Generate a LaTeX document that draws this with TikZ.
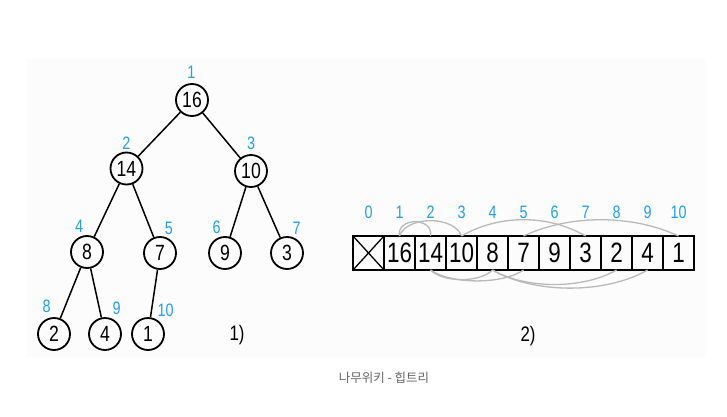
\documentclass[tikz,border=0pt]{standalone}
\usepackage{fontspec}
\setmainfont{Liberation Sans}
\newfontfamily\handfont[FakeStretch=0.8]{Liberation Sans}
\newfontfamily\krfont{Noto Sans CJK KR}
\usetikzlibrary{positioning}
\definecolor{idxblue}{RGB}{30,160,240}
\definecolor{panel}{RGB}{252,252,252}

\tikzset{
  heapnode/.style={draw, circle, line width=1.8pt, minimum size=32pt, inner sep=0pt,
    font=\handfont\fontsize{22}{22}\selectfont},
  idx/.style={text=idxblue, inner sep=1pt, font=\handfont\fontsize{18}{18}\selectfont},
  cell/.style={draw, line width=1.6pt, minimum width=31pt, minimum height=34pt,
    inner sep=0pt, outer sep=0pt, font=\handfont\fontsize{28}{30}\selectfont},
  edge/.style={line width=1.5pt},
  link/.style={draw=gray!55, line width=1.3pt},
}

\begin{document}
\begin{tikzpicture}[x=1pt,y=1pt]
\useasboundingbox (0,0) rectangle (727,416);
\fill[panel] (27,58) rectangle (706,358);

% tree
\node[heapnode, label={[idx,label distance=3pt]92:1}] (n16) at (192,316) {16};
\node[heapnode, label={[idx,label distance=1pt]90:2}] (n14) at (126.5,247.5) {14};
\node[heapnode, label={[idx,label distance=3pt]90:3}] (n10) at (251,245) {10};
\node[heapnode, label={[idx,label distance=2pt]98:4}] (n8) at (87,164) {8};
\node[heapnode, label={[idx,label distance=1pt]78:5}] (n7) at (160,163) {7};
\node[heapnode, label={[idx,label distance=1pt]100:6}] (n9) at (225,163) {9};
\node[heapnode, label={[idx,label distance=1pt]76:7}] (n3) at (287,163) {3};
\node[heapnode, label={[idx,label distance=3pt]96:8}] (n2) at (54,82) {2};
\node[heapnode, label={[idx,label distance=2pt]70:9}] (n4) at (105,82) {4};
\node[heapnode, label={[idx,label distance=1pt]62:10}] (n1) at (148,82) {1};
\draw[edge] (n16) -- (n14);
\draw[edge] (n16) -- (n10);
\draw[edge] (n14) -- (n8);
\draw[edge] (n14) -- (n7);
\draw[edge] (n10) -- (n9);
\draw[edge] (n10) -- (n3);
\draw[edge] (n8) -- (n2);
\draw[edge] (n8) -- (n4);
\draw[edge] (n7) -- (n1);
\node[font=\handfont\fontsize{21}{22}\selectfont] (cap1) at (237,81) {1)};

% array
\node[cell, label={[idx,label distance=16pt]above:0}] (c0) at (368.5,163) {};
\node[cell, right=0pt of c0, label={[idx,label distance=16pt]above:1}] (c1) {16};
\node[cell, right=0pt of c1, label={[idx,label distance=16pt]above:2}] (c2) {14};
\node[cell, right=0pt of c2, label={[idx,label distance=16pt]above:3}] (c3) {10};
\node[cell, right=0pt of c3, label={[idx,label distance=16pt]above:4}] (c4) {8};
\node[cell, right=0pt of c4, label={[idx,label distance=16pt]above:5}] (c5) {7};
\node[cell, right=0pt of c5, label={[idx,label distance=16pt]above:6}] (c6) {9};
\node[cell, right=0pt of c6, label={[idx,label distance=16pt]above:7}] (c7) {3};
\node[cell, right=0pt of c7, label={[idx,label distance=16pt]above:8}] (c8) {2};
\node[cell, right=0pt of c8, label={[idx,label distance=16pt]above:9}] (c9) {4};
\node[cell, right=0pt of c9, label={[idx,label distance=16pt]above:10}] (c10) {1};
\draw[line width=1.3pt] (c0.north west) -- (c0.south east);
\draw[line width=1.3pt] (c0.south west) -- (c0.north east);

% links above
\draw[link] (c1.north) to[out=100, in=80, looseness=1.6] (c2.north);
\draw[link] (c1.north) to[out=70, in=110, looseness=0.9] (c3.north);
\draw[link] (c3.north) to[out=30, in=150, looseness=0.9] (c7.north);
\draw[link] (c5.north) to[out=25, in=155, looseness=0.85] (c10.north);
% links below
\draw[link] (c2.south) to[out=-45, in=-135, looseness=0.75] (c4.south);
\draw[link] (c2.south) to[out=-35, in=-145, looseness=0.7] (c5.south);
\draw[link] (c4.south) to[out=-30, in=-150, looseness=0.8] (c8.south);
\draw[link] (c4.south) to[out=-30, in=-150, looseness=0.8] (c9.south);
\node[font=\handfont\fontsize{21}{22}\selectfont] (cap2) at (528,80) {2)};

\node[text=black!60, font=\krfont\fontsize{12.5}{14}\selectfont] (src) at (384,38) {나무위키 - 힙트리};
\end{tikzpicture}
\end{document}
